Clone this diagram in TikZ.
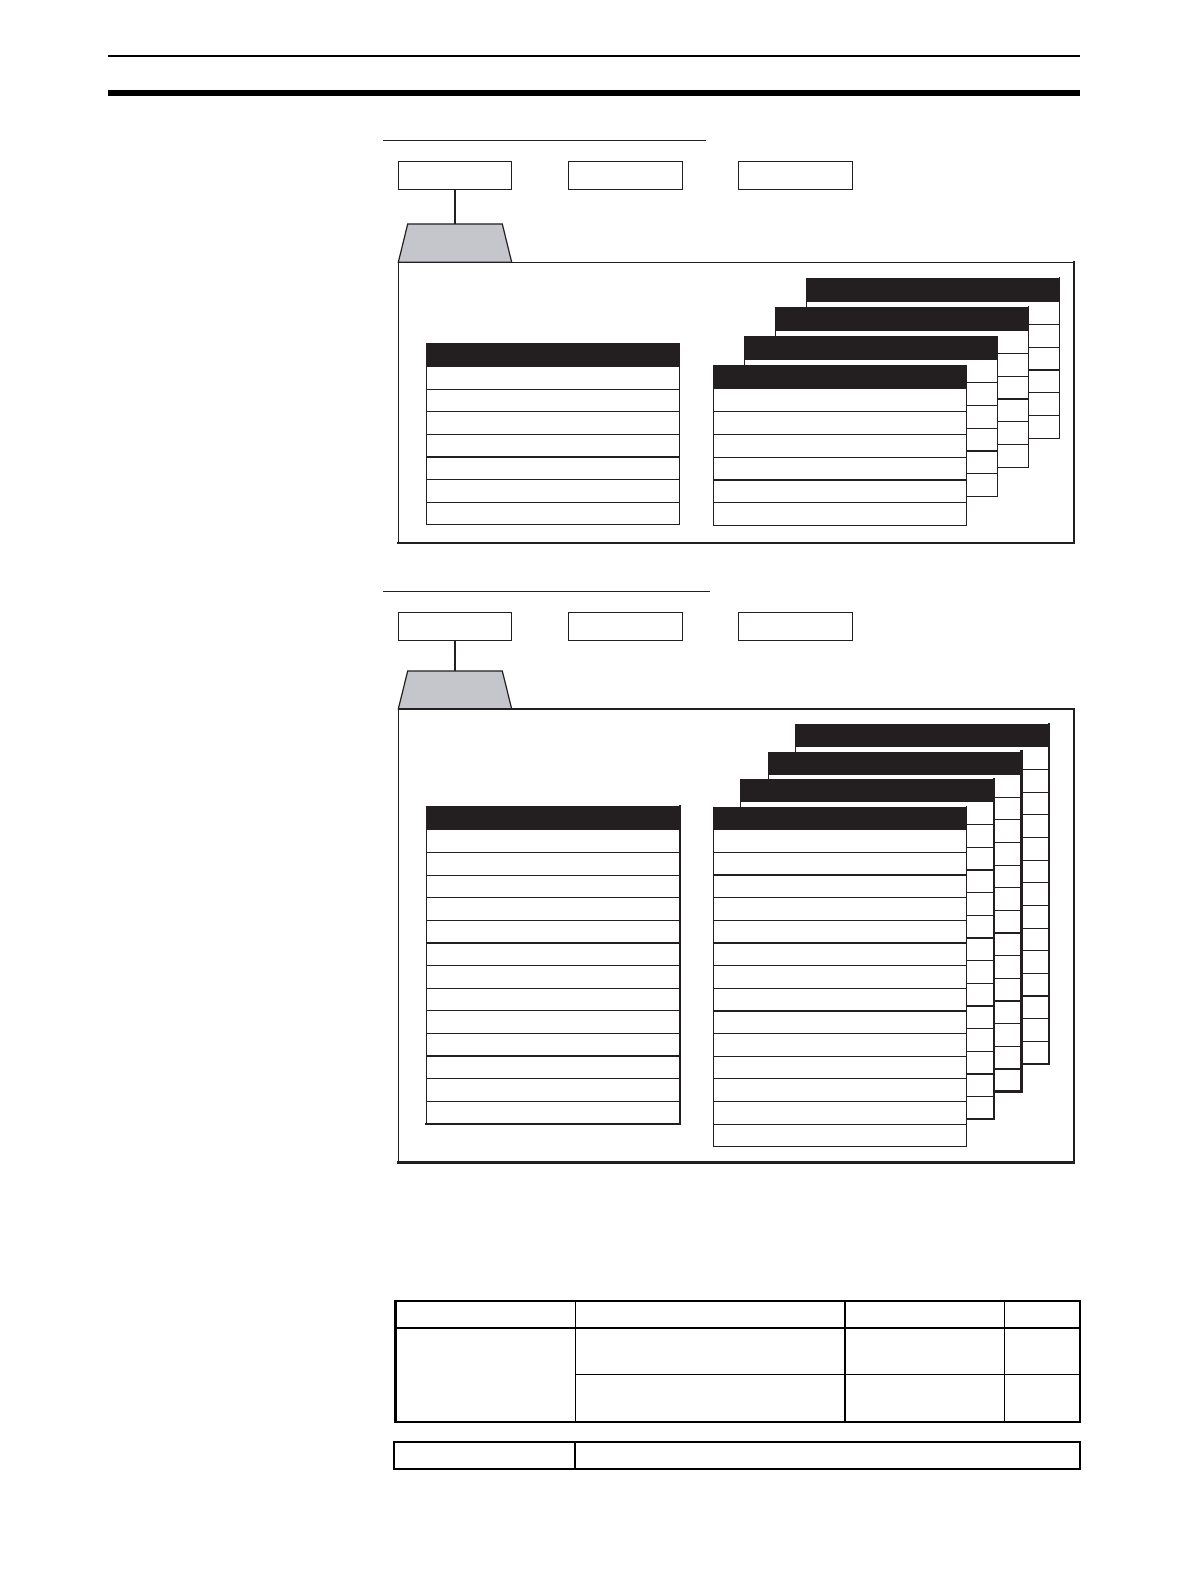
\documentclass[tikz,border=0pt]{standalone}
\definecolor{ink}{RGB}{35,31,32}
\definecolor{tabgray}{RGB}{196,198,204}
\tikzset{
  rowline/.style={draw=ink, line width=1.2pt},
  topbox/.style={draw=ink, line width=1.2pt, fill=white, rectangle, inner sep=0pt,
                 minimum width=113.4pt, minimum height=27.6pt},
  tabshape/.style={draw=ink, line width=1.2pt, fill=tabgray, line join=miter},
  conn/.style={draw=ink, line width=1.8pt},
  secline/.style={draw=ink, line width=1.3pt},
  framethin/.style={draw=ink, line width=1.2pt},
  framethick/.style={draw=ink, line width=2.4pt, line cap=rect},
  tabthick/.style={draw=black, line width=2.2pt, line cap=rect},
  tabthin/.style={draw=black, line width=1.3pt},
}
% #1 x, #2 y, #3 width, #4 header height, #5 row height, #6 rows, #7 right/bottom line width
\newcommand{\mysheet}[7]{%
  \pgfmathsetmacro{\shb}{#2+#4+#6*#5}%
  \pgfmathsetmacro{\shr}{#1+#3}%
  \fill[white] (#1,#2) rectangle (\shr,\shb);
  \foreach \i in {1,...,#6} {\draw[rowline] (#1,{#2+#4+\i*#5}) -- (\shr,{#2+#4+\i*#5});}
  \draw[rowline] (#1,#2) -- (#1,\shb);
  \draw[draw=ink, line width=#7, line cap=rect] (\shr,#2) -- (\shr,\shb) -- (#1,\shb);
  \fill[ink] (#1,#2) rectangle (\shr,{#2+#4});
}
\begin{document}
\begin{tikzpicture}[x=1pt, y=-1pt]
\useasboundingbox (0,0) rectangle (1190,1586);
\fill[white] (0,0) rectangle (1190,1586);

% page header rules
\draw[draw=black, line width=2pt] (108,55.7) -- (1080,55.7);
\fill[black] (108,90) rectangle (1080,95.7);

% ---------------- Section 1 ----------------
\draw[secline] (383,140.3) -- (705.7,140.3);
\node[topbox] (a1) at (455,175.5) {};
\node[topbox] (a2) at (625.5,175.5) {};
\node[topbox] (a3) at (795.5,175.5) {};
\coordinate (ta) at (455,224);
\filldraw[tabshape] (398.3,262.3) -- (407.7,224) -- (502.3,224) -- (511.7,262.3) -- cycle;
\draw[conn] (a1.south) -- (ta);
% frame
\draw[framethin] (398.3,542.8) -- (398.3,262.3) -- (1074,262.3);
\draw[framethick] (1074,262.3) -- (1074,542.8) -- (398.3,542.8);
% left table
\mysheet{426.3}{343.3}{253.4}{23.4}{22.57}{7}{1.2pt}
% stacked sheets (back to front)
\mysheet{806.3}{278.0}{253.4}{23.7}{22.75}{6}{1.2pt}
\mysheet{775.3}{307.1}{253.4}{23.7}{22.75}{6}{1.2pt}
\mysheet{744.3}{336.2}{253.4}{23.7}{22.75}{6}{1.2pt}
\mysheet{713.3}{365.3}{253.4}{23.7}{22.75}{6}{1.2pt}

% ---------------- Section 2 ----------------
\draw[secline] (383,591.3) -- (710,591.3);
\node[topbox] (b1) at (455,626.3) {};
\node[topbox] (b2) at (625.5,626.3) {};
\node[topbox] (b3) at (795.5,626.3) {};
\coordinate (tb) at (455,671);
\filldraw[tabshape] (398.3,709) -- (407.7,671) -- (502.3,671) -- (511.7,709) -- cycle;
\draw[conn] (b1.south) -- (tb);
% frame
\draw[framethin] (398.3,1162.3) -- (398.3,709) -- (1074,709);
\draw[framethick] (1074,709) -- (1074,1162.3) -- (398.3,1162.3);
% left table
\mysheet{426.3}{806}{253.4}{24}{22.6}{13}{1.8pt}
% stacked sheets (back to front)
\mysheet{795.5}{723.9}{253.4}{23}{22.65}{14}{2.4pt}
\mysheet{768.1}{751.5}{253.4}{23}{22.65}{14}{2.4pt}
\mysheet{740.7}{779.1}{253.4}{23}{22.65}{14}{2.4pt}
\mysheet{713.3}{806.7}{253.4}{23}{22.65}{14}{1.2pt}

% ---------------- Bottom tables ----------------
% table 1
\draw[tabthin] (575.3,1301) -- (575.3,1421.7);
\draw[tabthin] (845,1301) -- (845,1421.7);
\draw[tabthin] (1004.6,1301) -- (1004.6,1421.7);
\draw[tabthin] (575.3,1374.3) -- (1080,1374.3);
\draw[tabthick] (395.5,1327.7) -- (1080,1327.7);
\draw[tabthick] (395.5,1301) rectangle (1080,1421.7);
% table 2
\draw[tabthick] (574.8,1441.7) -- (574.8,1469);
\draw[tabthick] (394.3,1441.7) rectangle (1080,1469);
\end{tikzpicture}
\end{document}
